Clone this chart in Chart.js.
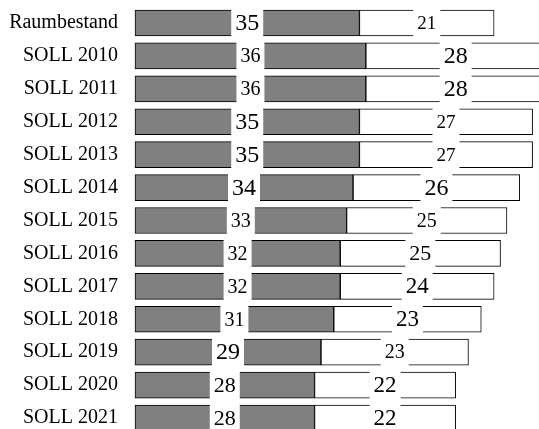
<!DOCTYPE html>
<html>
<head>
<meta charset="utf-8">
<script src="https://cdn.jsdelivr.net/npm/chart.js@4"></script>
<style>
  html, body { margin: 0; padding: 0; background: #fff; }
</style>
</head>
<body>
<canvas id="myChart" width="539" height="429"></canvas>
<script>
const categories = ['Raumbestand', 'SOLL 2010', 'SOLL 2011', 'SOLL 2012', 'SOLL 2013', 'SOLL 2014',
    'SOLL 2015', 'SOLL 2016', 'SOLL 2017', 'SOLL 2018', 'SOLL 2019', 'SOLL 2020', 'SOLL 2021'];
const grauWerte = [35, 36, 36, 35, 35, 34, 33, 32, 32, 31, 29, 28, 28];
const weissWerte = [21, 28, 28, 27, 27, 26, 25, 25, 24, 23, 23, 22, 22];

// label font sizes, they differ a bit in the original
const grauSize = [24, 20, 20, 24, 24, 24, 20, 20, 20, 20, 24, 22, 22];
const weissSize = [19, 24, 24, 19, 19, 24, 20, 22, 23, 23, 20, 23, 23];

const labelPlugin = {
    id: 'boxLabels',
    afterDatasetsDraw(chart) {
        const c = chart.ctx;
        const sizes = [grauSize, weissSize];
        chart.data.datasets.forEach((ds, di) => {
            const meta = chart.getDatasetMeta(di);
            meta.data.forEach((bar, i) => {
                const p = bar.getProps(['x', 'y', 'base', 'height'], true);
                const cx = (p.x + p.base) / 2;
                const txt = String(ds.data[i]);
                c.save();
                c.font = sizes[di][i] + 'px "Liberation Serif"';
                const w = c.measureText(txt).width;
                c.fillStyle = '#fff';
                c.fillRect(cx - w / 2 - 4, p.y - 15, w + 8, 30);
                c.fillStyle = '#000';
                c.textAlign = 'center';
                c.textBaseline = 'middle';
                c.fillText(txt, cx, p.y + 1);
                c.restore();
            });
        });
    }
};

new Chart(document.getElementById('myChart'), {
    type: 'bar',
    data: {
        labels: categories,
        datasets: [{
            data: grauWerte,
            backgroundColor: '#808080',
            borderColor: '#000',
            borderWidth: 1,
            borderSkipped: false,
            barThickness: 26,
            clip: false
        }, {
            data: weissWerte,
            backgroundColor: '#fff',
            borderColor: '#000',
            borderWidth: 1,
            borderSkipped: false,
            barThickness: 26,
            clip: false
        }]
    },
    options: {
        indexAxis: 'y',
        responsive: false,
        animation: false,
        devicePixelRatio: 1,
        layout: { padding: { top: 23, bottom: 11, left: 0, right: 0 } },
        plugins: { legend: { display: false }, tooltip: { enabled: false } },
        scales: {
            x: {
                display: false,
                stacked: true,
                min: 0,
                max: 63
            },
            y: {
                stacked: true,
                offset: false,
                grid: { display: false, drawTicks: false },
                border: { display: false },
                ticks: {
                    color: '#000',
                    padding: 17,
                    font: { family: '"Liberation Serif"', size: 20 }
                },
                afterFit(s) {
                    s.width = 135;
                    s.paddingTop = 0;
                    s.paddingBottom = 0;
                }
            }
        }
    },
    plugins: [labelPlugin]
});
</script>
</body>
</html>
